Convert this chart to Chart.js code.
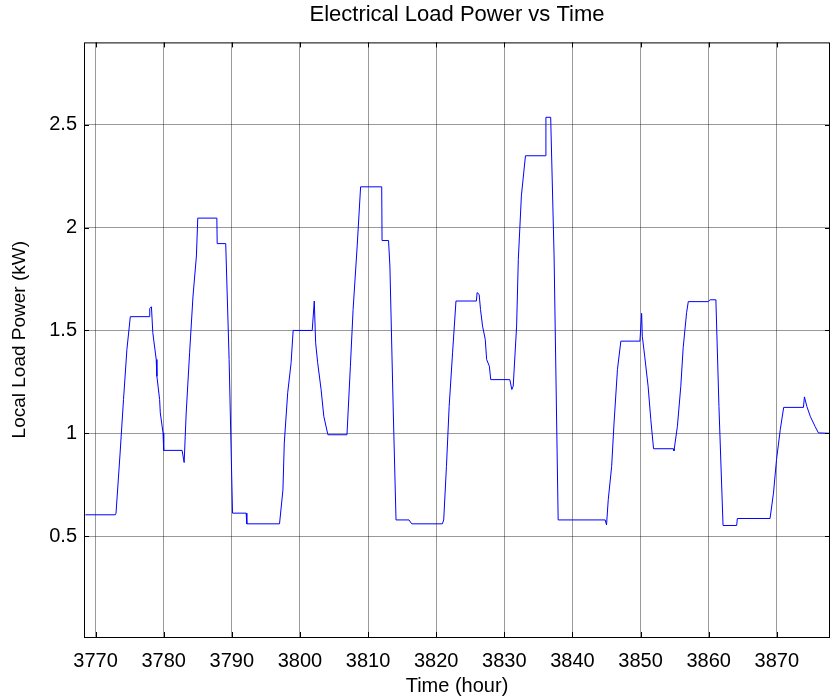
<!DOCTYPE html>
<html>
<head>
<meta charset="utf-8">
<title>Electrical Load Power vs Time</title>
<script src="https://cdn.jsdelivr.net/npm/chart.js@4/dist/chart.umd.min.js"></script>
<style>
  html, body { margin: 0; padding: 0; background: #fff; }
</style>
</head>
<body>
<canvas id="loadChart" width="831" height="700"></canvas>
<script>
// values
var hours = [
  3768.5, 3772.9, 3773.0, 3773.6, 3774.1, 3774.6, 3775.1, 3777.9, 3777.95, 3778.2,
  3778.4, 3778.9, 3779.0, 3779.4, 3779.5, 3779.9, 3780.0, 3782.7, 3783.0, 3783.3,
  3783.8, 3784.3, 3784.8, 3785.0, 3787.8, 3787.85, 3789.1, 3789.6, 3790.1, 3792.1,
  3792.2, 3797.0, 3797.5, 3797.7, 3798.2, 3798.7, 3799.0, 3801.8, 3802.1, 3802.3,
  3802.6, 3803.1, 3803.5, 3804.1, 3806.9, 3807.4, 3807.8, 3808.4, 3808.9, 3812.0,
  3812.05, 3813.0, 3813.2, 3813.7, 3814.1, 3816.0, 3816.4, 3820.9, 3821.1, 3821.5,
  3821.9, 3822.4, 3822.9, 3825.9, 3826.0, 3826.3, 3826.5, 3826.8, 3827.2, 3827.4,
  3827.8, 3828.0, 3830.8, 3831.1, 3831.3, 3831.8, 3832.05, 3832.5, 3833.1, 3836.0,
  3836.1, 3836.8, 3837.3, 3837.9, 3844.8, 3845.0, 3845.25, 3845.75, 3846.1, 3846.6,
  3847.1, 3849.9, 3850.15, 3850.25, 3850.6, 3851.1, 3851.5, 3851.9, 3854.8, 3854.9,
  3855.4, 3855.9, 3856.25, 3856.75, 3857.0, 3859.9, 3860.2, 3861.05, 3861.5, 3862.1,
  3864.1, 3864.2, 3869.0, 3869.5, 3869.95, 3870.5, 3871.0, 3873.9, 3874.05, 3874.4,
  3874.9, 3875.6, 3876.1, 3877.8
];
var loadKW = [
  0.604, 0.604, 0.612, 0.904, 1.164, 1.408, 1.567, 1.567, 1.606, 1.615,
  1.489, 1.359, 1.277, 1.164, 1.099, 1.002, 0.917, 0.917, 0.858, 1.099,
  1.391, 1.667, 1.862, 2.046, 2.046, 1.922, 1.922, 1.359, 0.612, 0.612,
  0.560, 0.560, 0.725, 0.953, 1.197, 1.343, 1.500, 1.500, 1.643, 1.440,
  1.343, 1.213, 1.083, 0.993, 0.993, 1.326, 1.602, 1.911, 2.198, 2.198,
  1.937, 1.937, 1.813, 1.099, 0.579, 0.579, 0.560, 0.560, 0.579, 0.839,
  1.131, 1.391, 1.643, 1.643, 1.684, 1.675, 1.602, 1.521, 1.456, 1.359,
  1.326, 1.261, 1.261, 1.213, 1.229, 1.521, 1.846, 2.154, 2.349, 2.349,
  2.536, 2.536, 1.862, 0.579, 0.579, 0.555, 0.677, 0.839, 1.050, 1.310,
  1.448, 1.448, 1.583, 1.472, 1.375, 1.229, 1.066, 0.925, 0.925, 0.915,
  1.034, 1.229, 1.416, 1.586, 1.640, 1.640, 1.649, 1.649, 1.131, 0.552,
  0.552, 0.586, 0.586, 0.709, 0.872, 1.018, 1.126, 1.126, 1.177, 1.131,
  1.083, 1.034, 1.002, 1.000
];
var xTicks = [3770, 3780, 3790, 3800, 3810, 3820, 3830, 3840, 3850, 3860, 3870];
var yTicks = [0.5, 1, 1.5, 2, 2.5];

var points = hours.map(function (h, i) { return { x: h, y: loadKW[i] }; });

// matlab style box with inward ticks
var boxPlugin = {
  id: 'box',
  afterDraw: function (chart) {
    var ctx = chart.ctx, a = chart.chartArea;
    var xs = chart.scales.x, ys = chart.scales.y;
    ctx.save();
    ctx.strokeStyle = '#000';
    ctx.lineWidth = 1;
    ctx.strokeRect(a.left + 0.5, a.top + 0.5, a.right - a.left - 1, a.bottom - a.top);
    ctx.beginPath();
    xTicks.forEach(function (t) {
      var px = Math.round(xs.getPixelForValue(t)) + 0.5;
      ctx.moveTo(px, a.bottom); ctx.lineTo(px, a.bottom - 5);
      ctx.moveTo(px, a.top); ctx.lineTo(px, a.top + 5);
    });
    yTicks.forEach(function (t) {
      var py = Math.round(ys.getPixelForValue(t)) + 0.5;
      ctx.moveTo(a.left, py); ctx.lineTo(a.left + 5, py);
      ctx.moveTo(a.right, py); ctx.lineTo(a.right - 5, py);
    });
    ctx.stroke();
    ctx.restore();
  }
};

var font = 'Arial, "Liberation Sans", sans-serif';

new Chart(document.getElementById('loadChart').getContext('2d'), {
  type: 'scatter',
  data: {
    datasets: [{
      data: points,
      showLine: true,
      borderColor: '#0000ff',
      borderWidth: 1,
      pointRadius: 0,
      fill: false
    }]
  },
  options: {
    responsive: false,
    animation: false,
    layout: { padding: { left: 0, right: 1, top: 0, bottom: 0 } },
    plugins: {
      legend: { display: false },
      tooltip: { enabled: false },
      title: {
        display: true,
        fullSize: false,
        text: 'Electrical Load Power vs Time',
        color: '#000',
        font: { family: font, size: 22, weight: 'normal' },
        padding: { top: 2, bottom: 14 }
      }
    },
    scales: {
      x: {
        type: 'linear',
        min: 3768.3,
        max: 3877.8,
        afterBuildTicks: function (s) { s.ticks = xTicks.map(function (v) { return { value: v }; }); },
        afterFit: function (s) { s.height = 63; },
        ticks: {
          color: '#000',
          font: { family: font, size: 20 },
          padding: 12,
          maxRotation: 0,
          callback: function (v) { return String(v); }
        },
        grid: { color: 'rgba(0,0,0,0.4)', lineWidth: 1, drawTicks: false },
        border: { display: false },
        title: {
          display: true,
          text: 'Time (hour)',
          color: '#000',
          font: { family: font, size: 20 },
          padding: { top: 0, bottom: 2 }
        }
      },
      y: {
        min: 0.01,
        max: 2.9,
        afterBuildTicks: function (s) { s.ticks = yTicks.map(function (v) { return { value: v }; }); },
        afterFit: function (s) { s.width = 84; },
        ticks: {
          color: '#000',
          font: { family: font, size: 20 },
          padding: 7,
          callback: function (v) { return String(v); }
        },
        grid: { color: 'rgba(0,0,0,0.4)', lineWidth: 1, drawTicks: false },
        border: { display: false },
        title: {
          display: true,
          text: 'Local Load Power (kW)',
          color: '#000',
          font: { family: font, size: 19 },
          padding: { top: 8, bottom: 0 }
        }
      }
    }
  },
  plugins: [boxPlugin]
});
</script>
</body>
</html>
